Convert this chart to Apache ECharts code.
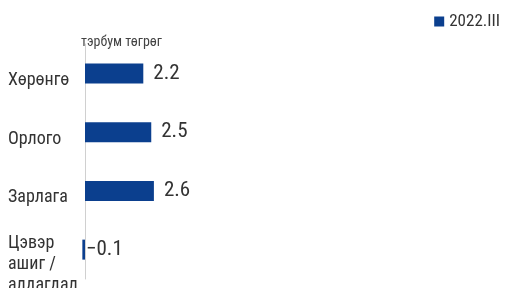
<!DOCTYPE html>
<html>
<head>
<meta charset="utf-8">
<script src="https://cdn.jsdelivr.net/npm/echarts@6/dist/echarts.min.js"></script>
<style>
  html, body { margin: 0; padding: 0; background: #fff; }
  #main { width: 507px; height: 288px; }
</style>
</head>
<body>
<div id="main"></div>
<script>
var categories = ['Хөрөнгө', 'Орлого', 'Зарлага', 'Цэвэр\nашиг /\nалдагдал'];
var values = [2.2, 2.5, 2.6, -0.1];
var seriesName = '2022.III';
var unitLabel = 'тэрбум төгрөг';

var font = "'Roboto Condensed', 'Liberation Sans Narrow', 'Arial Narrow', 'DejaVu Sans Condensed', sans-serif";
var barColor = '#0b3f8e';

var myChart = echarts.init(document.getElementById('main'));
myChart.setOption({
  animation: false,
  textStyle: { fontFamily: font },
  legend: {
    right: 2,
    top: 8,
    itemWidth: 10,
    itemHeight: 10,
    itemGap: 4,
    icon: 'rect',
    textStyle: { fontSize: 17, color: '#333', fontFamily: font },
    data: [seriesName]
  },
  graphic: [{
    type: 'text',
    left: 81,
    top: 35,
    style: { text: unitLabel, fontSize: 14, fill: '#444', fontFamily: font }
  }],
  grid: {
    left: 58.5, top: 44, width: 397.5, height: 235,
    containLabel: false,
    outerBoundsMode: 'none'
  },
  xAxis: {
    type: 'value',
    min: -1,
    max: 14,
    show: false
  },
  yAxis: {
    type: 'category',
    inverse: true,
    data: categories,
    axisLine: { onZero: true, lineStyle: { color: '#d0d0d0', width: 1 } },
    axisTick: { show: false },
    axisLabel: {
      align: 'left',
      margin: 50.5,
      color: '#333',
      fontFamily: font,
      formatter: function (v) {
        var lines = v.split('\n').map(function (s) { return '{a|' + s + '}'; });
        lines.unshift(lines.length > 1 ? '{e| }' : '{s| }');
        return lines.join('\n');
      },
      rich: {
        a: { align: 'left', fontSize: 18, lineHeight: 21, color: '#333', fontFamily: font },
        e: { lineHeight: 29, fontSize: 10 },
        s: { lineHeight: 14, fontSize: 10 }
      }
    }
  },
  series: [{
    name: seriesName,
    type: 'bar',
    barWidth: 20,
    itemStyle: { color: barColor },
    label: {
      show: true,
      position: 'right',
      fontSize: 21,
      color: '#333',
      fontFamily: font,
      formatter: function (p) {
        return p.value < 0 ? '−' + Math.abs(p.value).toFixed(1) : p.value.toFixed(1);
      }
    },
    data: values.map(function (v) {
      return { value: v, label: { distance: v < 0 ? 1 : 10 } };
    })
  }]
});
</script>
</body>
</html>
